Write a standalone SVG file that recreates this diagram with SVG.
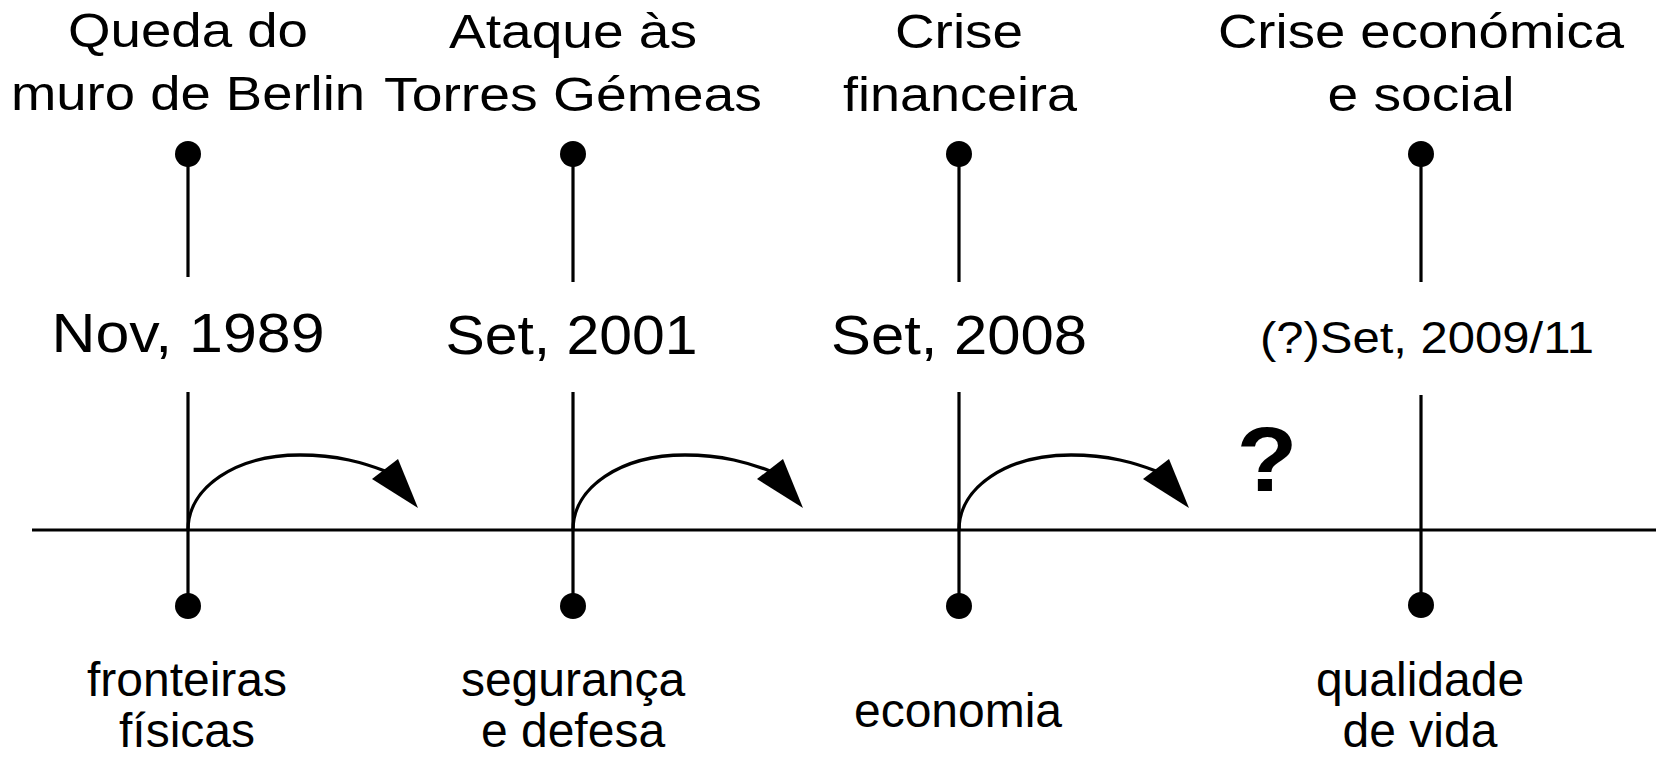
<svg xmlns="http://www.w3.org/2000/svg" width="1656" height="757" viewBox="0 0 1656 757">
<style>
  .ln{stroke:#000;stroke-width:3.2;fill:none}
  .dot{fill:#000}
  .t{font-family:"Liberation Sans",Arial,sans-serif;fill:#000;text-anchor:middle}
  .title{font-size:48px}
  .date{font-size:55px}
  .lab{font-size:48px}
  .arc{stroke:#000;stroke-width:3.3;fill:none}
  .head{fill:#000}
</style>
<rect width="1656" height="757" fill="#fff"/>
<g id="axis">
  <line class="ln" x1="32" y1="530" x2="1656" y2="530"/>
</g>
<g id="event-1989">
  <circle class="dot" cx="188" cy="154" r="13"/>
  <line class="ln" x1="188" y1="154" x2="188" y2="277"/>
  <line class="ln" x1="188" y1="392" x2="188" y2="606"/>
  <circle class="dot" cx="188" cy="606" r="13"/>
  <text class="t title" x="188" y="47" textLength="240" lengthAdjust="spacingAndGlyphs">Queda do</text>
  <text class="t title" x="188" y="110" textLength="354" lengthAdjust="spacingAndGlyphs">muro de Berlin</text>
  <text class="t date" x="188" y="352" textLength="273" lengthAdjust="spacingAndGlyphs">Nov, 1989</text>
  <text class="t lab" x="187" y="696">fronteiras</text>
  <text class="t lab" x="187" y="747">físicas</text>
</g>
<g id="event-2001">
  <circle class="dot" cx="573" cy="154" r="13"/>
  <line class="ln" x1="573" y1="154" x2="573" y2="282"/>
  <line class="ln" x1="573" y1="392" x2="573" y2="606"/>
  <circle class="dot" cx="573" cy="606" r="13"/>
  <text class="t title" x="573" y="48" textLength="248" lengthAdjust="spacingAndGlyphs">Ataque às</text>
  <text class="t title" x="573" y="111" textLength="378" lengthAdjust="spacingAndGlyphs">Torres Gémeas</text>
  <text class="t date" x="571.5" y="354" textLength="252" lengthAdjust="spacingAndGlyphs">Set, 2001</text>
  <text class="t lab" x="573" y="696">segurança</text>
  <text class="t lab" x="573" y="747">e defesa</text>
</g>
<g id="event-2008">
  <circle class="dot" cx="959" cy="154" r="13"/>
  <line class="ln" x1="959" y1="154" x2="959" y2="282"/>
  <line class="ln" x1="959" y1="392" x2="959" y2="606"/>
  <circle class="dot" cx="959" cy="606" r="13"/>
  <text class="t title" x="959" y="48" textLength="128" lengthAdjust="spacingAndGlyphs">Crise</text>
  <text class="t title" x="960" y="111" textLength="234" lengthAdjust="spacingAndGlyphs">financeira</text>
  <text class="t date" x="959" y="354" textLength="256" lengthAdjust="spacingAndGlyphs">Set, 2008</text>
  <text class="t lab" x="958" y="727">economia</text>
</g>
<g id="event-2009">
  <circle class="dot" cx="1421" cy="154" r="13"/>
  <line class="ln" x1="1421" y1="154" x2="1421" y2="282"/>
  <line class="ln" x1="1421" y1="395" x2="1421" y2="605"/>
  <circle class="dot" cx="1421" cy="605" r="13"/>
  <text class="t title" x="1421" y="48" textLength="406" lengthAdjust="spacingAndGlyphs">Crise económica</text>
  <text class="t title" x="1421" y="111" textLength="187" lengthAdjust="spacingAndGlyphs">e social</text>
  <text class="t" x="1427" y="353" font-size="45" textLength="334" lengthAdjust="spacingAndGlyphs">(?)Set, 2009/11</text>
  <text class="t lab" x="1420" y="696">qualidade</text>
  <text class="t lab" x="1420" y="747">de vida</text>
</g>
<g id="question">
  <text class="t" x="1267" y="491" font-size="90" font-weight="bold" textLength="61" lengthAdjust="spacingAndGlyphs">?</text>
</g>
<g id="connectors">
  <g transform="translate(188,530)">
    <path class="arc" d="M0,0 C0,-43 48,-75 112,-75 C150,-75 176,-67 197,-59"/>
    <polygon class="head" points="184,-51 210,-71 230,-22"/>
  </g>
  <g transform="translate(573,530)">
    <path class="arc" d="M0,0 C0,-43 48,-75 112,-75 C150,-75 176,-67 197,-59"/>
    <polygon class="head" points="184,-51 210,-71 230,-22"/>
  </g>
  <g transform="translate(959,530)">
    <path class="arc" d="M0,0 C0,-43 48,-75 112,-75 C150,-75 176,-67 197,-59"/>
    <polygon class="head" points="184,-51 210,-71 230,-22"/>
  </g>
</g>
</svg>
